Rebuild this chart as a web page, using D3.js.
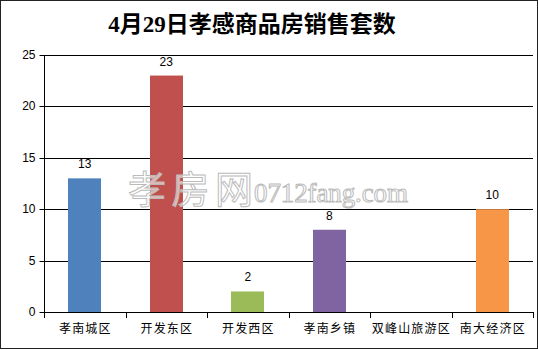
<!DOCTYPE html>
<html>
<head>
  <meta charset="utf-8">
  <title>4月29日孝感商品房销售套数</title>
  <script src="https://d3js.org/d3.v7.min.js"></script>
  <style>
    body { margin: 0; background: #fff; }
    svg { display: block; }
  </style>
</head>
<body>
  <svg id="chart" width="538" height="350"></svg>
  <script>
    // data
    const districts = ['孝南城区', '开发东区', '开发西区', '孝南乡镇', '双峰山旅游区', '南大经济区'];
    const sales = [13, 23, 2, 8, 0, 10];
    const barColors = ['#4F81BD', '#C0504D', '#9BBB59', '#8064A2', '#F79646', '#F79646'];
    const yTicks = [0, 5, 10, 15, 20, 25];

    const width = 538;
    const height = 350;
    const plot = { left: 44, right: 533, top: 55, bottom: 312 };

    const svg = d3.select('#chart');

    // outer frame
    svg.append('rect')
      .attr('x', 0.5).attr('y', 0.5)
      .attr('width', width - 1).attr('height', height - 2)
      .attr('fill', '#fff')
      .attr('stroke', '#222');

    // title
    svg.append('text')
      .attr('x', 252)
      .attr('y', 32)
      .attr('text-anchor', 'middle')
      .attr('font-family', '"Liberation Serif", "Noto Sans CJK SC", serif')
      .attr('font-size', '23px')
      .attr('font-weight', 'bold')
      .attr('fill', '#000')
      .text('4月29日孝感商品房销售套数');

    const x = d3.scaleBand()
      .domain(districts)
      .range([plot.left, plot.right])
      .paddingInner(0.595)
      .paddingOuter(0.2975);

    const y = d3.scaleLinear()
      .domain([0, 25])
      .range([plot.bottom, plot.top]);

    const rows = districts.map((name, i) => ({ name, value: sales[i], color: barColors[i] }));

    // gridlines
    svg.append('g')
      .selectAll('line')
      .data(yTicks.filter(d => d > 0))
      .join('line')
      .attr('x1', plot.left).attr('x2', plot.right)
      .attr('y1', d => Math.round(y(d)) + 0.5)
      .attr('y2', d => Math.round(y(d)) + 0.5)
      .attr('stroke', '#000');

    // y axis
    const yAxis = svg.append('g')
      .attr('transform', `translate(${plot.left + 0.5},0)`)
      .call(d3.axisLeft(y).tickValues(yTicks).tickSize(5).tickPadding(4).tickFormat(d3.format('d')));
    yAxis.select('.domain').attr('stroke', '#000').attr('d', `M0,${plot.top}V${plot.bottom}`);
    yAxis.selectAll('.tick line').attr('stroke', '#000');
    yAxis.selectAll('.tick').attr('transform', d => `translate(0,${Math.round(y(d)) + 0.5})`);
    yAxis.selectAll('text')
      .attr('font-family', '"Liberation Sans", Arial, sans-serif')
      .attr('font-size', '12px')
      .attr('fill', '#000');

    // bars
    svg.append('g')
      .selectAll('rect')
      .data(rows)
      .join('rect')
      .attr('x', d => Math.round(x(d.name)))
      .attr('y', d => y(d.value))
      .attr('width', Math.round(x.bandwidth()))
      .attr('height', d => y(0) - y(d.value))
      .attr('fill', d => d.color);

    // value labels (the empty category has none)
    svg.append('g')
      .selectAll('text')
      .data(rows.filter(d => d.value > 0))
      .join('text')
      .attr('x', d => x(d.name) + x.bandwidth() / 2)
      .attr('y', d => y(d.value) - 10)
      .attr('text-anchor', 'middle')
      .attr('font-family', '"Liberation Sans", Arial, sans-serif')
      .attr('font-size', '12px')
      .attr('fill', '#000')
      .text(d => d.value);

    // x axis with ticks between categories
    const xAxisG = svg.append('g');
    xAxisG.append('line')
      .attr('x1', plot.left).attr('x2', plot.right)
      .attr('y1', Math.round(y(0)) + 0.5).attr('y2', Math.round(y(0)) + 0.5)
      .attr('stroke', '#000');
    const step = x.step();
    const bounds = d3.range(districts.length + 1).map(i => plot.left + i * step);
    xAxisG.selectAll('.xtick')
      .data(bounds)
      .join('line')
      .attr('class', 'xtick')
      .attr('x1', d => Math.round(d) + 0.5).attr('x2', d => Math.round(d) + 0.5)
      .attr('y1', Math.round(y(0))).attr('y2', Math.round(y(0)) + 6)
      .attr('stroke', '#000');
    xAxisG.selectAll('.xlabel')
      .data(districts)
      .join('text')
      .attr('class', 'xlabel')
      .attr('x', d => x(d) + x.bandwidth() / 2 + 0.6)
      .attr('y', 333)
      .attr('text-anchor', 'middle')
      .attr('font-family', '"Noto Sans CJK SC", sans-serif')
      .attr('font-size', '12px')
      .attr('letter-spacing', '1.2px')
      .attr('fill', '#000')
      .text(d => d);

    // watermark
    const wm = svg.append('g');
    wm.append('text')
      .attr('x', 128).attr('y', 203)
      .attr('font-family', '"Noto Sans CJK SC", sans-serif')
      .attr('font-size', '38px')
      .attr('textLength', 125)
      .attr('fill', '#fff')
      .attr('fill-opacity', 0.6)
      .attr('stroke', '#bbb')
      .attr('stroke-width', 1)
      .text('孝房网');
    wm.append('text')
      .attr('x', 254).attr('y', 202)
      .attr('font-family', '"Liberation Serif", serif')
      .attr('font-size', '27px')
      .attr('textLength', 154)
      .attr('fill', '#fff')
      .attr('fill-opacity', 0.6)
      .attr('stroke', '#bbb')
      .attr('stroke-width', 1)
      .text('0712fang.com');
  </script>
</body>
</html>
